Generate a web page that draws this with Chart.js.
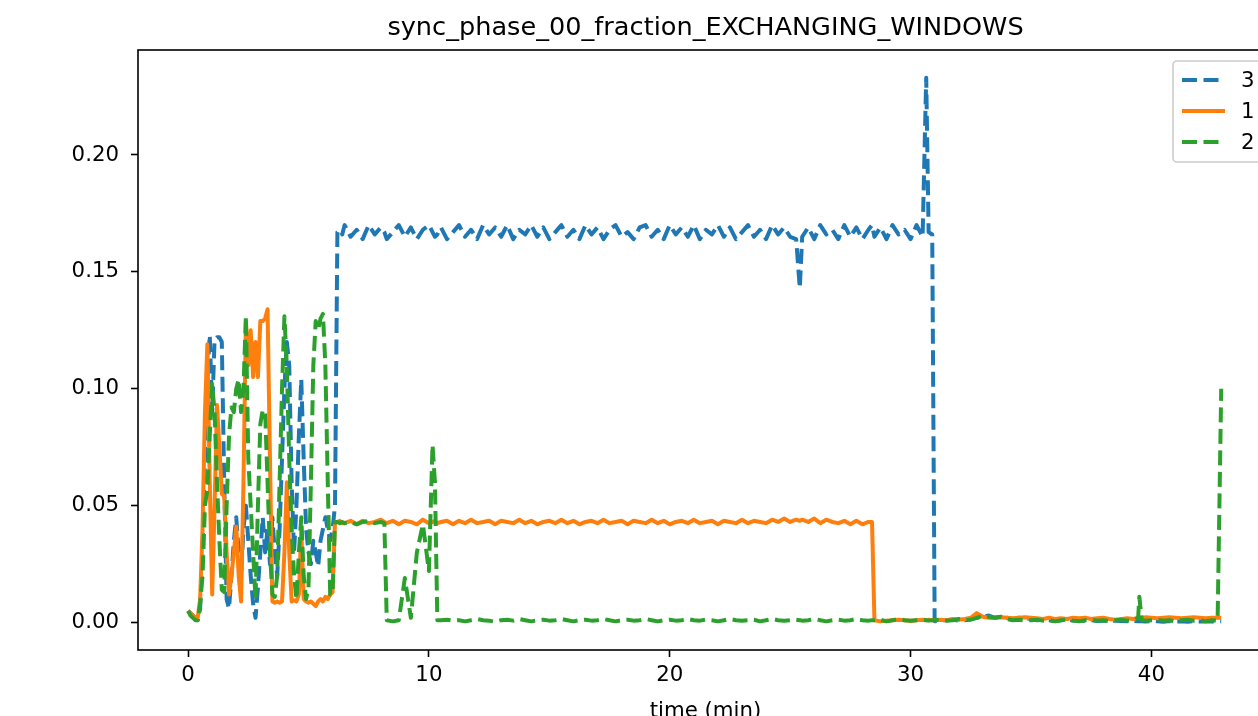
<!DOCTYPE html>
<html>
<head>
<meta charset="utf-8">
<script src="https://cdn.jsdelivr.net/npm/chart.js@4.4.1/dist/chart.umd.min.js"></script>
<style>
  html, body { margin: 0; padding: 0; background: #fff; overflow: hidden; }
  #wrap { width: 1300px; height: 740px; }
</style>
</head>
<body>
<div id="wrap"><canvas id="chart" width="1300" height="740"></canvas></div>
<script>
// --- data ---
const chartTitle = 'sync_phase_00_fraction_EXCHANGING_WINDOWS';
const xTitle = 'time (min)';
const seriesNames = ['3', '1', '2'];
const seriesColors = ['#1f77b4', '#ff7f0e', '#2ca02c'];
const seriesDashed = [true, false, true];
const xTicks = [0, 10, 20, 30, 40];
const yTicks = [0, 0.05, 0.10, 0.15, 0.20];

// sample times (min)
const times = [
  0, 0.1, 0.2, 0.3, 0.4, 0.5, 0.6, 0.7, 0.8, 0.9,
  1, 1.1, 1.2, 1.3, 1.4, 1.5, 1.6, 1.7, 1.8, 1.9,
  2, 2.1, 2.2, 2.3, 2.4, 2.5, 2.6, 2.7, 2.8, 2.9,
  3, 3.1, 3.2, 3.3, 3.4, 3.5, 3.6, 3.7, 3.8, 3.9,
  4, 4.1, 4.2, 4.3, 4.4, 4.5, 4.6, 4.7, 4.8, 4.9,
  5, 5.1, 5.2, 5.3, 5.4, 5.5, 5.6, 5.7, 5.8, 5.9,
  6, 6.1, 6.2, 6.3, 6.4,
  6.5, 6.75, 7, 7.25, 7.5, 7.75, 8, 8.15, 8.25, 8.5, 8.75, 9, 9.25, 9.5, 9.75, 10,
  10.15, 10.25, 10.35,
  10.5, 10.75, 11, 11.25, 11.5, 11.75, 12, 12.25, 12.5, 12.75,
  13, 13.25, 13.5, 13.75, 14, 14.25, 14.5, 14.75, 15, 15.25,
  15.5, 15.75, 16, 16.25, 16.5, 16.75, 17, 17.25, 17.5, 17.75,
  18, 18.25, 18.5, 18.75, 19, 19.25, 19.5, 19.75, 20, 20.25,
  20.5, 20.75, 21, 21.25, 21.5, 21.75, 22, 22.25, 22.5, 22.75,
  23, 23.25, 23.5, 23.75, 24, 24.25, 24.5, 24.75, 25, 25.25,
  25.4,
  25.5, 25.75, 26, 26.25, 26.5, 26.75, 27, 27.25, 27.5, 27.75, 28, 28.25,
  28.4,
  28.5, 28.75, 29, 29.25, 29.5, 29.75, 30, 30.25, 30.5,
  30.65, 30.75, 30.9,
  31, 31.25, 31.5, 31.75, 32, 32.25, 32.5, 32.75, 33, 33.25,
  33.5, 33.75, 34, 34.25, 34.5, 34.75, 35, 35.25, 35.5, 35.75,
  36, 36.25, 36.5, 36.75, 37, 37.25, 37.5, 37.75, 38, 38.25,
  38.5, 38.75, 39, 39.25,
  39.45, 39.5, 39.6,
  39.75, 40, 40.25, 40.5, 40.75, 41, 41.25, 41.5, 41.75, 42, 42.25, 42.5, 42.75,
  42.9
];

// series "3" (blue, dashed)
const series3 = [
  0.005, 0.004, 0.003, 0.002, 0.001, 0.006, 0.030, 0.070, 0.105, 0.123,
  0.090, 0.121, 0.122, 0.122, 0.120, 0.060, 0.010, 0.006, 0.020, 0.035,
  0.045, 0.030, 0.020, 0.040, 0.050, 0.035, 0.020, 0.008, 0.002, 0.015,
  0.030, 0.045, 0.030, 0.040, 0.025, 0.045, 0.030, 0.020, 0.040, 0.070,
  0.100, 0.120, 0.110, 0.060, 0.030, 0.050, 0.080, 0.104, 0.070, 0.040,
  0.030, 0.025, 0.035, 0.030, 0.024, 0.035, 0.040, 0.045, 0.040, 0.035,
  0.040, 0.050, 0.167, 0.168, 0.166,
  0.170, 0.165, 0.168, 0.164, 0.170, 0.166, 0.169, 0.167, 0.164, 0.167, 0.170, 0.165, 0.169, 0.164, 0.168, 0.170,
  0.167, 0.165, 0.166,
  0.169, 0.164, 0.167, 0.170, 0.165, 0.168, 0.164, 0.170, 0.166, 0.169,
  0.165, 0.170, 0.164, 0.168, 0.166, 0.170, 0.165, 0.169, 0.164, 0.167,
  0.170, 0.165, 0.168, 0.164, 0.170, 0.166, 0.169, 0.164, 0.168, 0.170,
  0.165, 0.167, 0.164, 0.169, 0.170, 0.165, 0.168, 0.164, 0.170, 0.166,
  0.169, 0.165, 0.170, 0.164, 0.168, 0.166, 0.170, 0.165, 0.169, 0.164,
  0.167, 0.170, 0.165, 0.168, 0.164, 0.170, 0.166, 0.169, 0.165, 0.164,
  0.143,
  0.165, 0.169, 0.164, 0.170, 0.166, 0.168, 0.164, 0.170, 0.165, 0.169, 0.164, 0.168,
  0.170,
  0.165, 0.169, 0.164, 0.170, 0.166, 0.168, 0.164, 0.170, 0.165,
  0.233, 0.167, 0.166,
  0.0005, 0.001, 0.001, 0.0012, 0.0008, 0.001, 0.0015, 0.002, 0.0025, 0.003,
  0.002, 0.0025, 0.002, 0.0015, 0.002, 0.0018, 0.0015, 0.001, 0.0012, 0.001,
  0.0008, 0.001, 0.0012, 0.0009, 0.001, 0.0008, 0.001, 0.0006, 0.0008, 0.0005,
  0.0008, 0.0006, 0.0005, 0.0007,
  0.0005, 0.0006, 0.0005,
  0.0004, 0.0006, 0.0005, 0.0003, 0.0006, 0.0004, 0.0005, 0.0003, 0.0006, 0.0004, 0.0005, 0.0004, 0.0005,
  0.0005
];

// series "1" (orange, solid)
const series1 = [
  0.005, 0.004, 0.003, 0.002, 0.002, 0.010, 0.040, 0.090, 0.119, 0.060,
  0.012, 0.050, 0.093, 0.075, 0.055, 0.054, 0.030, 0.012, 0.020, 0.030,
  0.041, 0.020, 0.009, 0.060, 0.129, 0.110, 0.125, 0.105, 0.120, 0.105,
  0.129, 0.129, 0.130, 0.134, 0.070, 0.009, 0.0085, 0.009, 0.0085, 0.009,
  0.030, 0.060, 0.030, 0.009, 0.0095, 0.009, 0.012, 0.040, 0.010, 0.009,
  0.0085, 0.009, 0.008, 0.007, 0.009, 0.010, 0.009, 0.011, 0.010, 0.012,
  0.013, 0.043, 0.043, 0.0435, 0.0425,
  0.0425, 0.0435, 0.042, 0.0435, 0.0425, 0.043, 0.044, 0.043, 0.0425, 0.0435, 0.042, 0.0435, 0.043, 0.042, 0.044, 0.0425,
  0.043, 0.0435, 0.0425,
  0.043, 0.0435, 0.042, 0.0435, 0.0425, 0.044, 0.0425, 0.043, 0.0435, 0.042,
  0.0435, 0.043, 0.0425, 0.044, 0.0425, 0.0435, 0.042, 0.043, 0.0435, 0.0425,
  0.044, 0.0425, 0.0435, 0.042, 0.043, 0.0435, 0.0425, 0.044, 0.0425, 0.043,
  0.0435, 0.042, 0.0435, 0.043, 0.0425, 0.044, 0.0425, 0.0435, 0.042, 0.043,
  0.0435, 0.0425, 0.044, 0.0425, 0.043, 0.0435, 0.042, 0.0435, 0.043, 0.0425,
  0.044, 0.0425, 0.0435, 0.043, 0.0425, 0.044, 0.043, 0.0445, 0.043, 0.044,
  0.0435,
  0.044, 0.043, 0.0445, 0.0425, 0.044, 0.043, 0.0425, 0.0435, 0.042, 0.0435, 0.042, 0.043,
  0.043,
  0.001, 0.0005, 0.0008, 0.001, 0.0012, 0.001, 0.0008, 0.001, 0.0012,
  0.001, 0.0012, 0.001,
  0.001, 0.0012, 0.001, 0.0015, 0.0012, 0.0015, 0.002, 0.004, 0.0025, 0.002,
  0.002, 0.0022, 0.002, 0.0018, 0.002, 0.0022, 0.002, 0.0018, 0.0015, 0.002,
  0.0015, 0.0018, 0.0015, 0.002, 0.0018, 0.002, 0.0015, 0.0018, 0.002, 0.0015,
  0.0012, 0.0015, 0.0018, 0.0015,
  0.002, 0.002, 0.002,
  0.0022, 0.002, 0.0018, 0.002, 0.0022, 0.002, 0.0018, 0.002, 0.0022, 0.002, 0.0018, 0.002, 0.002,
  0.002
];

// series "2" (green, dashed)
const series2 = [
  0.005, 0.003, 0.002, 0.001, 0.001, 0.008, 0.020, 0.050, 0.057, 0.080,
  0.102, 0.090, 0.060, 0.035, 0.014, 0.013, 0.050, 0.080, 0.092, 0.090,
  0.100, 0.104, 0.090, 0.100, 0.131, 0.070, 0.050, 0.030, 0.010, 0.050,
  0.085, 0.091, 0.090, 0.060, 0.030, 0.012, 0.011, 0.020, 0.060, 0.100,
  0.131, 0.110, 0.070, 0.040, 0.020, 0.010, 0.030, 0.045, 0.020, 0.010,
  0.015, 0.060, 0.110, 0.129, 0.125, 0.130, 0.132, 0.110, 0.060, 0.012,
  0.013, 0.043, 0.043, 0.0425, 0.043,
  0.0425, 0.043, 0.042, 0.043, 0.0435, 0.0425, 0.043, 0.0425, 0.001, 0.0005, 0.001, 0.019, 0.002, 0.030, 0.042, 0.022,
  0.076, 0.060, 0.001,
  0.001, 0.0012, 0.0008, 0.001, 0.0005, 0.001, 0.0015, 0.001, 0.0008, 0.0003,
  0.001, 0.0012, 0.0008, 0.0015, 0.001, 0.0005, 0.001, 0.0012, 0.0008, 0.001,
  0.0015, 0.001, 0.0005, 0.001, 0.0012, 0.0008, 0.001, 0.0015, 0.001, 0.0005,
  0.001, 0.0012, 0.0008, 0.001, 0.0015, 0.001, 0.0005, 0.001, 0.0012, 0.0008,
  0.001, 0.0015, 0.001, 0.0008, 0.0012, 0.001, 0.0005, 0.001, 0.0015, 0.001,
  0.0008, 0.001, 0.0012, 0.0005, 0.001, 0.0015, 0.001, 0.0008, 0.001, 0.0012,
  0.001,
  0.0008, 0.001, 0.0015, 0.001, 0.0005, 0.001, 0.0012, 0.0008, 0.001, 0.0015, 0.001, 0.0008,
  0.001,
  0.001, 0.0012, 0.0005, 0.001, 0.0015, 0.001, 0.0008, 0.001, 0.0012,
  0.001, 0.0008, 0.001,
  0.001, 0.0012, 0.0008, 0.001, 0.0015, 0.001, 0.0012, 0.002, 0.003, 0.0025,
  0.002, 0.0025, 0.0015, 0.001, 0.0012, 0.0008, 0.001, 0.0012, 0.0008, 0.001,
  0.0005, 0.001, 0.0012, 0.0008, 0.0005, 0.001, 0.0012, 0.0008, 0.001, 0.0005,
  0.001, 0.0012, 0.0008, 0.001,
  0.002, 0.011, 0.001,
  0.0008, 0.001, 0.0012, 0.0008, 0.001, 0.0005, 0.001, 0.0012, 0.0008, 0.001, 0.0005, 0.001, 0.0008,
  0.1
];

const seriesValues = [series3, series1, series2];
seriesValues.forEach((s, i) => {
  if (s.length !== times.length) console.error('length mismatch', seriesNames[i], s.length, times.length);
});

// --- chart ---
const FONT = "'DejaVu Sans', 'Liberation Sans', sans-serif";
const DASH = [15, 6.5];
Chart.defaults.font.family = FONT;
Chart.defaults.color = '#000';

// frame, title, axis title and legend, drawn matplotlib style
const framePlugin = {
  id: 'frame',
  afterDraw(chart) {
    const ctx = chart.ctx;
    const a = chart.chartArea;
    ctx.save();
    ctx.strokeStyle = '#000';
    ctx.lineWidth = 1.6;
    ctx.strokeRect(a.left, a.top, a.right - a.left, a.bottom - a.top);

    ctx.fillStyle = '#000';
    ctx.textAlign = 'center';
    ctx.textBaseline = 'alphabetic';
    ctx.font = '25.6px ' + FONT;
    ctx.fillText(chartTitle, (a.left + a.right) / 2, a.top - 15);
    ctx.font = '21.3px ' + FONT;
    ctx.fillText(xTitle, (a.left + a.right) / 2, a.bottom + 67);

    // legend box
    const bx = a.right - 100, by = a.top + 11, bw = 90, bh = 101;
    ctx.beginPath();
    ctx.roundRect(bx, by, bw, bh, 4);
    ctx.fillStyle = 'rgba(255,255,255,0.8)';
    ctx.fill();
    ctx.strokeStyle = '#cccccc';
    ctx.lineWidth = 1.6;
    ctx.stroke();

    chart.data.datasets.forEach((ds, i) => {
      const y = by + 19 + i * 31;
      ctx.beginPath();
      ctx.setLineDash(ds.borderDash || []);
      ctx.lineCap = 'butt';
      ctx.strokeStyle = ds.borderColor;
      ctx.lineWidth = ds.borderWidth;
      ctx.moveTo(bx + 9, y);
      ctx.lineTo(bx + 52, y);
      ctx.stroke();
      ctx.setLineDash([]);
      ctx.fillStyle = '#000';
      ctx.textAlign = 'left';
      ctx.textBaseline = 'middle';
      ctx.font = '21.3px ' + FONT;
      ctx.fillText(ds.label, bx + 68, y + 1);
    });
    ctx.restore();
  }
};

const datasets = seriesNames.map((name, i) => ({
  label: name,
  data: times.map((t, j) => ({ x: t, y: seriesValues[i][j] })),
  borderColor: seriesColors[i],
  backgroundColor: seriesColors[i],
  borderWidth: 4,
  borderDash: seriesDashed[i] ? DASH : [],
  borderCapStyle: 'butt',
  borderJoinStyle: 'round',
  pointRadius: 0,
  tension: 0,
  fill: false,
  order: seriesNames.length - 1 - i
}));

new Chart(document.getElementById('chart').getContext('2d'), {
  type: 'line',
  data: { datasets },
  options: {
    responsive: false,
    animation: false,
    devicePixelRatio: 1,
    layout: { padding: { top: 50, left: 0, right: 27, bottom: 0 } },
    plugins: {
      legend: { display: false },
      tooltip: { enabled: false },
      title: { display: false }
    },
    scales: {
      x: {
        type: 'linear',
        min: -2.08,
        max: 45.05,
        afterFit: s => { s.height = 90; },
        afterBuildTicks: s => { s.ticks = xTicks.map(v => ({ value: v })); },
        ticks: {
          font: { size: 21.3 },
          color: '#000',
          padding: 6,
          maxRotation: 0,
          callback: v => String(v)
        },
        grid: { drawOnChartArea: false, drawTicks: true, tickLength: 7, tickWidth: 1.6, tickColor: '#000' },
        border: { display: false }
      },
      y: {
        type: 'linear',
        min: -0.01176,
        max: 0.2449,
        afterFit: s => { s.width = 138; },
        afterBuildTicks: s => { s.ticks = yTicks.map(v => ({ value: v })); },
        ticks: {
          font: { size: 21.3 },
          color: '#000',
          padding: 12,
          callback: v => v.toFixed(2)
        },
        grid: { drawOnChartArea: false, drawTicks: true, tickLength: 7, tickWidth: 1.6, tickColor: '#000' },
        border: { display: false }
      }
    }
  },
  plugins: [framePlugin]
});
</script>
</body>
</html>
